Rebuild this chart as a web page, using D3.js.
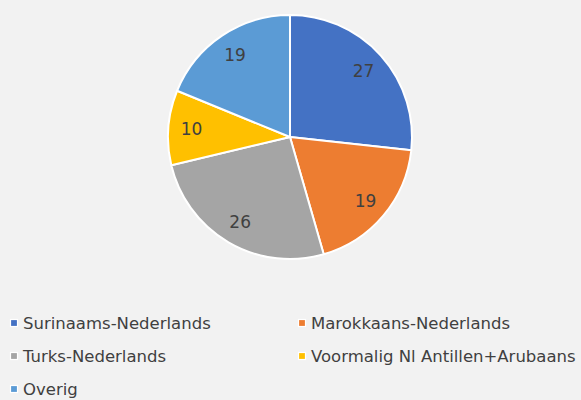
<!DOCTYPE html>
<html><head><meta charset="utf-8">
<script src="https://cdn.jsdelivr.net/npm/d3@7"></script>
<style>html,body{margin:0;padding:0;background:#F2F2F2;}</style>
</head><body>
<svg id="c" width="581" height="400"></svg>
<script>
const categories = ["Surinaams-Nederlands","Marokkaans-Nederlands","Turks-Nederlands","Voormalig Nl Antillen+Arubaans","Overig"];
const values = [27,19,26,10,19];
const colors = ["#4472C4","#ED7D31","#A5A5A5","#FFC000","#5B9BD5"];

const svg = d3.select("#c");
const font = "'DejaVu Sans', sans-serif";
svg.append("rect").attr("width",581).attr("height",400).attr("fill","#F2F2F2");
const cx = 290, cy = 137, r = 122;
const g = svg.append("g").attr("transform",`translate(${cx},${cy})`);
const pie = d3.pie().sort(null).value(d=>d)(values);
const arc = d3.arc().innerRadius(0).outerRadius(r);
const larc = d3.arc().innerRadius(r*0.81).outerRadius(r*0.81);
g.selectAll("path").data(pie).join("path")
  .attr("d",arc).attr("fill",(d,i)=>colors[i])
  .attr("stroke","#fff").attr("stroke-width",2).attr("stroke-linejoin","round");
g.selectAll("text").data(pie).join("text")
  .attr("transform",d=>`translate(${larc.centroid(d)})`)
  .attr("text-anchor","middle").attr("dy","0.35em")
  .attr("font-family",font).attr("font-size",17).attr("fill","#404040")
  .text(d=>d.data);

const leg = svg.append("g");
const items = leg.selectAll("g").data(categories).join("g")
  .attr("transform",(d,i)=>`translate(${i%2===0?10:298},${323+Math.floor(i/2)*33})`);
items.append("rect").attr("x",0.5).attr("y",-3.5).attr("width",7).attr("height",7)
  .attr("fill",(d,i)=>colors[i]).attr("stroke","#fff").attr("stroke-width",1.2);
items.append("text").attr("x",13).attr("dy","0.35em")
  .attr("font-family",font).attr("font-size",16.5).attr("fill","#404040")
  .text(d=>d);
</script>
</body></html>
